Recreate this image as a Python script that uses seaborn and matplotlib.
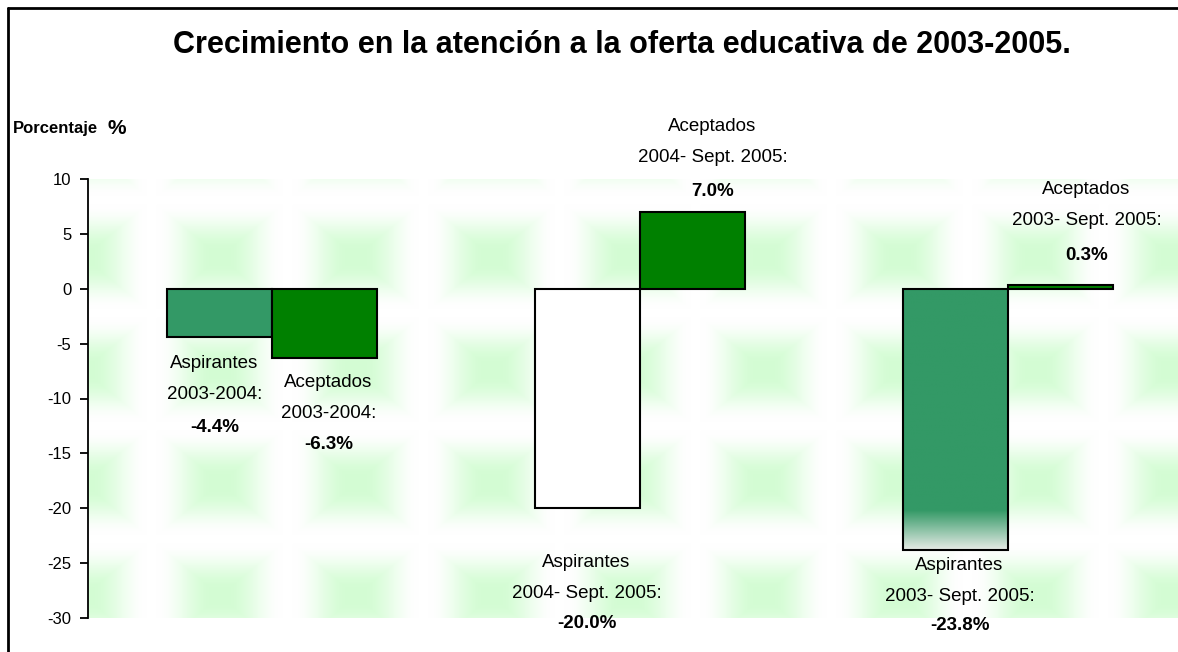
import numpy as np
import pandas as pd
import matplotlib
matplotlib.use('Agg')
import matplotlib.pyplot as plt
from matplotlib.lines import Line2D
from matplotlib.colors import to_rgb
import seaborn as sns

# datos
periodos = ['2003-2004', '2004- Sept. 2005', '2003- Sept. 2005']
aspirantes = [-4.4, -20.0, -23.8]
aceptados = [-6.3, 7.0, 0.3]
tipos = ['Aspirantes', 'Aceptados']
y_ticks = [10, 5, 0, -5, -10, -15, -20, -25, -30]

df = pd.DataFrame({
    'Periodo': periodos * 2,
    'Tipo': [tipos[0]] * 3 + [tipos[1]] * 3,
    'Valor': aspirantes + aceptados,
})

sns.set_theme(style='white')
plt.rcParams['font.family'] = ['Liberation Sans', 'DejaVu Sans']
plt.rcParams['text.color'] = 'black'
plt.rcParams['axes.labelcolor'] = 'black'
plt.rcParams['ytick.color'] = 'black'
narrow = ['Liberation Sans Narrow', 'Liberation Sans', 'DejaVu Sans']

W, H = 1178, 652
fig = plt.figure(figsize=(W / 100, H / 100), dpi=100)
ax = fig.add_axes([88 / W, 1 - 618 / H, (1192 - 88) / W, (618 - 179) / H])

# fondo con cuadros verdes difuminados
xs = np.arange(88, 1192) + 0.5
ys = np.arange(179, 618) + 0.5
fx = ((xs - 220) / 136 + 0.5) % 1 - 0.5
fy = ((ys - 257) / 113 + 0.5) % 1 - 0.5
t = np.maximum(np.abs(fx)[None, :], np.abs(fy)[:, None]) * 2
a = np.clip((0.92 - t) / 0.8, 0, 1)
a = a * a * (3 - 2 * a)
verde = np.array([0.80, 0.99, 0.80])
img = 1 - 0.85 * a[..., None] * (1 - verde)
ax.imshow(img, extent=(-0.5, 2.5, -30, 10), aspect='auto', origin='upper',
          interpolation='bilinear', zorder=0)

sns.barplot(data=df, x='Periodo', y='Valor', hue='Tipo', order=periodos,
            hue_order=tipos, palette={'Aspirantes': '#339966', 'Aceptados': '#008000'},
            saturation=1, width=0.57, edgecolor='black', linewidth=1.5, legend=False,
            ax=ax, zorder=2)

asp_bars = ax.containers[0]
ace_bars = ax.containers[1]
asp_bars[1].set_facecolor('white')

# degradado en la parte baja de la ultima barra de aspirantes
b = asp_bars[2]
b.set_facecolor('none')
x0 = b.get_x()
x1 = x0 + b.get_width()
yy = np.linspace(0, aspirantes[2], 300)
frac = np.clip((yy - (-20.2)) / (aspirantes[2] - (-20.2)), 0, 1)[:, None]
c1 = np.array(to_rgb('#339966'))
c2 = np.array([0.90, 0.92, 0.90])
grad = (1 - frac) * c1 + frac * c2
gim = ax.imshow(grad[:, None, :], extent=(x0, x1, aspirantes[2], 0), aspect='auto',
                origin='upper', zorder=1.5)
gim.set_clip_path(b)

ax.set_xlim(-0.5, 2.5)
ax.set_ylim(-30, 10)
ax.set_xlabel('')
ax.set_ylabel('')
ax.set_xticks([])
ax.set_yticks(y_ticks)
ax.set_yticklabels([str(v) for v in y_ticks], family=narrow, fontsize=12)
ax.tick_params(axis='y', left=True, direction='out', length=6, width=1.3, pad=6, colors='black')
for s in ['top', 'right', 'bottom']:
    ax.spines[s].set_visible(False)
ax.spines['left'].set_bounds(-30, 10)
ax.spines['left'].set_color('black')
ax.spines['left'].set_linewidth(1.3)

# etiquetas: (dx, centro del nombre, valor) en pixeles respecto al extremo de la barra
nombres = ['Aspirantes', 'Aceptados']
offs = {
    (0, 0): (-5, -42, -90), (1, 0): (4, -40, -87),
    (0, 1): (-1, -70, -115), (1, 1): (20, 70, 20),
    (0, 2): (4, -31, -76), (1, 2): (26, 80, 30),
}
px = 0.72  # pixeles -> puntos
for k, (cont, vals) in enumerate([(asp_bars, aspirantes), (ace_bars, aceptados)]):
    for i, bar in enumerate(cont):
        v = vals[i]
        xc = bar.get_x() + bar.get_width() / 2
        dx, dn, dv = offs[(k, i)]
        lineas = [(nombres[k], dn + 15.5, 'normal'), (f'{periodos[i]}:', dn - 15.5, 'normal'),
                  (f'{v:.1f}%', dv, 'bold')]
        for txt, dy, peso in lineas:
            ax.annotate(txt, (xc, v), xytext=(dx * px, dy * px), textcoords='offset points',
                        ha='center', va='center', fontsize=13.5, fontweight=peso,
                        family=narrow, annotation_clip=False, zorder=5)

fig.text(622 / W, 1 - 45 / H, 'Crecimiento en la atención a la oferta educativa de 2003-2005.',
         ha='center', va='center', fontsize=22, fontweight='bold')
fig.text(13 / W, 1 - 128 / H, 'Porcentaje', ha='left', va='center', fontsize=12,
         fontweight='bold', family=narrow)
fig.text(108 / W, 1 - 128 / H, '%', ha='left', va='center', fontsize=15, fontweight='bold')

# marco
fig.add_artist(Line2D([8 / W, 8 / W], [0, 1 - 8 / H], transform=fig.transFigure, color='black', lw=2))
fig.add_artist(Line2D([8 / W, 1], [1 - 8 / H, 1 - 8 / H], transform=fig.transFigure, color='black', lw=2))

fig.savefig('out.png', dpi=100)
